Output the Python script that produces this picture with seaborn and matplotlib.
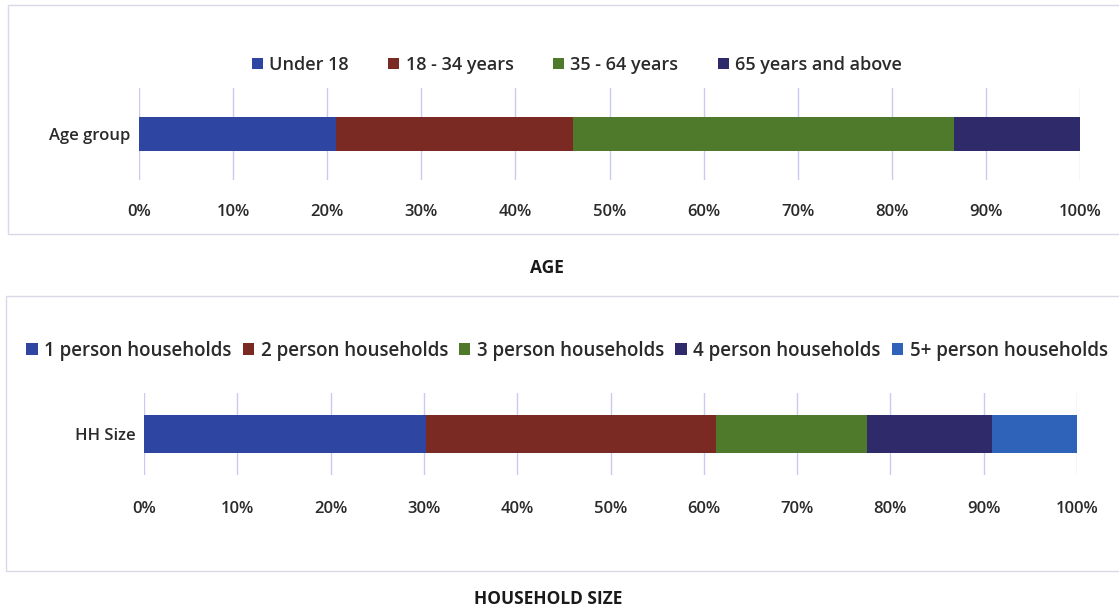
import matplotlib
matplotlib.use("Agg")
import matplotlib.pyplot as plt
from matplotlib.patches import Rectangle, Patch
from matplotlib.ticker import FuncFormatter, MultipleLocator
import numpy as np
import pandas as pd
import seaborn as sns

# Age distribution (percent of population)
age_groups = ["Under 18", "18 - 34 years", "35 - 64 years", "65 years and above"]
age_shares = [20.9, 25.2, 40.5, 13.4]
age_colors = ["#2F45A2", "#7A2A22", "#4F7A2B", "#2F2B6A"]

# Household size distribution (percent of households)
hh_groups = ["1 person households", "2 person households", "3 person households",
             "4 person households", "5+ person households"]
hh_shares = [30.2, 31.1, 16.2, 13.4, 9.1]
hh_colors = ["#2F45A2", "#7A2A22", "#4F7A2B", "#2F2B6A", "#2F62B9"]

sns.set_theme(style="white")
plt.rcParams["font.family"] = ["Open Sans", "DejaVu Sans"]

W, H = 1119, 611
fig = plt.figure(figsize=(W / 100, H / 100), dpi=100)
TXT = "#2a2a2a"


def px_axes(x0, y0, x1, y1):
    return fig.add_axes([x0 / W, 1 - y1 / H, (x1 - x0) / W, (y1 - y0) / H])


def stacked(ax, label, groups, shares, colors, bar_h, pad):
    cum = np.cumsum(shares)
    # draw cumulative totals from the largest down so each segment shows
    for i in range(len(groups) - 1, -1, -1):
        df = pd.DataFrame({"cat": [label], "val": [cum[i]]})
        sns.barplot(data=df, x="val", y="cat", color=colors[i], width=bar_h,
                    saturation=1, ax=ax, zorder=3, edgecolor="none")
    ax.set_xlim(0, 100)
    ax.set_ylim(0.5, -0.5)
    ax.xaxis.set_major_locator(MultipleLocator(10))
    ax.xaxis.set_major_formatter(FuncFormatter(lambda v, p: f"{v:.0f}%"))
    ax.grid(axis="x", color="#C9C9F2", linewidth=1.0, zorder=0)
    ax.grid(axis="y", visible=False)
    for s in ax.spines.values():
        s.set_visible(False)
    ax.set_xlabel("")
    ax.set_ylabel("")
    ax.tick_params(axis="x", length=0, pad=pad, labelsize=12, labelcolor=TXT)
    ax.tick_params(axis="y", length=0, pad=6, labelsize=12, labelcolor=TXT)
    for t in ax.get_xticklabels() + ax.get_yticklabels():
        t.set_fontweight("semibold")
    ax.patch.set_alpha(0)


# Panel frames
fig.patches.append(Rectangle((8 / W, 1 - 234 / H), 1.2, (234 - 5) / H, transform=fig.transFigure,
                             fill=False, edgecolor="#D9D9E8", linewidth=1.0))
fig.patches.append(Rectangle((6 / W, 1 - 571 / H), 1.2, (571 - 296) / H, transform=fig.transFigure,
                             fill=False, edgecolor="#D9D9E8", linewidth=1.0))

ax1 = px_axes(139, 88, 1080, 180)
stacked(ax1, "Age group", age_groups, age_shares, age_colors, 0.38, 17)

ax2 = px_axes(144, 393, 1077, 475)
stacked(ax2, "HH Size", hh_groups, hh_shares, hh_colors, 0.475, 19)

# Legends
h1 = [Patch(facecolor=c, edgecolor="none") for c in age_colors]
fig.legend(h1, age_groups, loc="center", bbox_to_anchor=(577 / W, 1 - 65 / H), ncol=4,
           frameon=False, handlelength=0.6, handleheight=0.6, handletextpad=0.35,
           columnspacing=2.2, prop={"size": 13, "weight": "semibold"}, labelcolor=TXT)
h2 = [Patch(facecolor=c, edgecolor="none") for c in hh_colors]
fig.legend(h2, hh_groups, loc="center", bbox_to_anchor=(567 / W, 1 - 351 / H), ncol=5,
           frameon=False, handlelength=0.6, handleheight=0.6, handletextpad=0.35,
           columnspacing=0.6, prop={"size": 13.5, "weight": "semibold"}, labelcolor=TXT)

# Panel titles
fig.text(547 / W, 1 - 268 / H, "AGE", ha="center", va="center", fontsize=12.5,
         fontweight="bold", color="#1a1a1a")
fig.text(548 / W, 1 - 599 / H, "HOUSEHOLD SIZE", ha="center", va="center", fontsize=12.5,
         fontweight="bold", color="#1a1a1a")

fig.savefig("out.png", dpi=100)
